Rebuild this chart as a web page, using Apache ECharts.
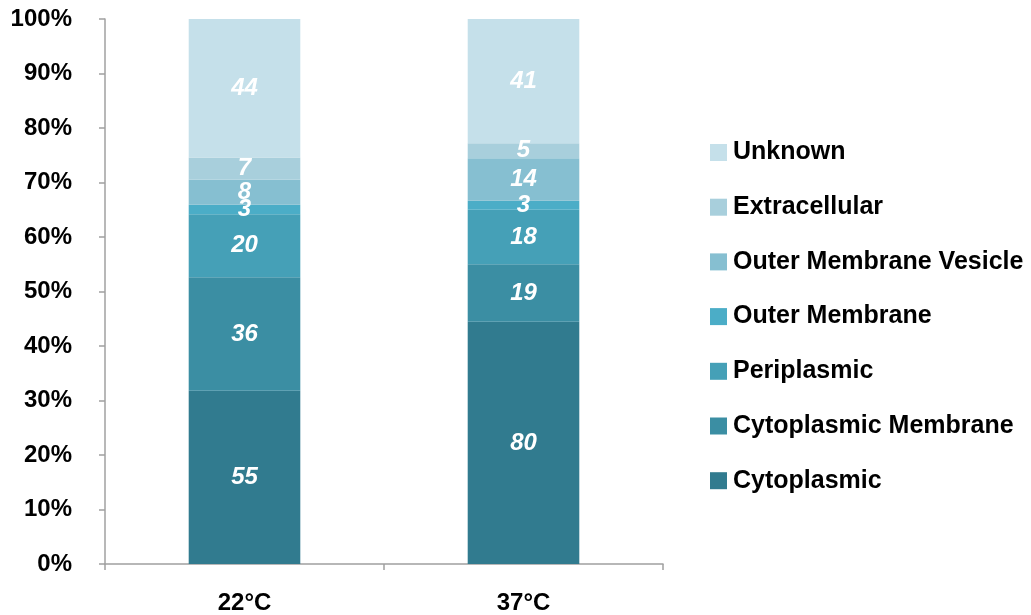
<!DOCTYPE html>
<html>
<head>
<meta charset="utf-8">
<script src="https://cdn.jsdelivr.net/npm/echarts@6/dist/echarts.min.js"></script>
<style>
  html, body { margin: 0; padding: 0; background: #fff; }
  #chart { width: 1031px; height: 615px; }
</style>
</head>
<body>
<div id="chart"></div>
<script>
// Protein counts per subcellular location at each growth temperature
const categories = ['22°C', '37°C'];
const locations = [
  'Cytoplasmic',
  'Cytoplasmic Membrane',
  'Periplasmic',
  'Outer Membrane',
  'Outer Membrane Vesicle',
  'Extracellular',
  'Unknown'
];
const counts22 = [55, 36, 20, 3, 8, 7, 44];
const counts37 = [80, 19, 18, 3, 14, 5, 41];
const colors = ['#317b8f', '#3b8ea3', '#45a0b7', '#4badc7', '#86bfd1', '#a8cfdc', '#c5e0ea'];
const yTicks = [0, 10, 20, 30, 40, 50, 60, 70, 80, 90, 100];

const countsByCat = [counts22, counts37];
const totals = countsByCat.map(c => c.reduce((a, b) => a + b, 0));

const FONT = '"Liberation Sans", Arial, sans-serif';

// Each segment is drawn as its share of the column total; the label shows the raw count
const series = locations.map((name, i) => ({
  name: name,
  type: 'bar',
  stack: 'share',
  barWidth: '40%',
  itemStyle: { color: colors[i] },
  label: {
    show: true,
    position: 'inside',
    color: '#fff',
    fontFamily: FONT,
    fontWeight: 'bold',
    fontStyle: 'italic',
    fontSize: 24,
    formatter: p => String(countsByCat[p.dataIndex][i])
  },
  data: countsByCat.map((c, k) => c[i] / totals[k] * 100)
}));

const chart = echarts.init(document.getElementById('chart'), null, { renderer: 'canvas' });
chart.setOption({
  animation: false,
  grid: { left: 105, right: 368, top: 19, bottom: 50 },
  legend: {
    orient: 'vertical',
    left: 710,
    top: 140,
    padding: 0,
    itemWidth: 17,
    itemHeight: 17,
    itemGap: 29.7,
    icon: 'rect',
    data: locations.slice().reverse(),
    textStyle: {
      fontFamily: FONT,
      fontWeight: 'bold',
      fontSize: 25,
      lineHeight: 25,
      color: '#000',
      padding: [0, 0, 0, 1]
    }
  },
  xAxis: {
    type: 'category',
    data: categories,
    axisLine: { lineStyle: { color: '#a0a0a0', width: 1.5 } },
    axisTick: { show: true, length: 6, alignWithLabel: false, lineStyle: { color: '#a0a0a0', width: 1.5 } },
    axisLabel: {
      margin: 27,
      fontFamily: FONT,
      fontWeight: 'bold',
      fontSize: 24,
      color: '#000'
    }
  },
  yAxis: {
    type: 'value',
    min: 0,
    max: 100,
    interval: 10,
    splitLine: { show: false },
    axisLine: { show: true, lineStyle: { color: '#a0a0a0', width: 1.5 } },
    axisTick: { show: true, length: 6, lineStyle: { color: '#a0a0a0', width: 1.5 } },
    axisLabel: {
      margin: 33,
      fontFamily: FONT,
      fontWeight: 'bold',
      fontSize: 24,
      color: '#000',
      formatter: v => (yTicks.includes(v) ? v + '%' : '')
    }
  },
  series: series
});
</script>
</body>
</html>
